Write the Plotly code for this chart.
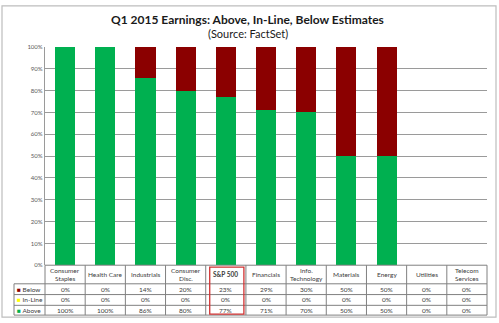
import plotly.graph_objects as go

# Sector earnings outcomes, Q1 2015
categories = ["Consumer<br>Staples", "Health Care", "Industrials", "Consumer<br>Disc.",
              "S&P 500", "Financials", "Info.<br>Technology", "Materials", "Energy",
              "Utilities", "Telecom<br>Services"]
below = [0, 0, 14, 20, 23, 29, 30, 50, 50, 0, 0]
inline = [0, 0, 0, 0, 0, 0, 0, 0, 0, 0, 0]
above = [100, 100, 86, 80, 77, 71, 70, 50, 50, 0, 0]
y_ticks = [0, 10, 20, 30, 40, 50, 60, 70, 80, 90, 100]

GREEN = "#00B050"
RED = "#8B0000"
YELLOW = "#FFFF00"
GRID = "#9A9A9A"
FONT = "Lato"

W, H = 499, 323
def px(x):
    return x / W
def py(y):
    return 1 - y / H

x_left, x_right = 45, 487
y_top, y_base = 44, 267
xs = list(range(len(categories)))

fig = go.Figure()
fig.add_bar(x=xs, y=above, marker_color=GREEN, marker_line_width=0, name="Above")
fig.add_bar(x=xs, y=inline, marker_color=YELLOW, marker_line_width=0, name="In-Line")
fig.add_bar(x=xs, y=below, marker_color=RED, marker_line_width=0, name="Below")

fig.update_layout(
    width=W, height=H, margin=dict(l=0, r=0, t=0, b=0),
    paper_bgcolor="white", plot_bgcolor="white",
    barmode="stack", bargap=0.5, showlegend=False,
    font=dict(family=FONT, color="#404040"),
    xaxis=dict(domain=[px(x_left), px(x_right)], range=[-0.5, len(categories) - 0.5],
               showticklabels=False, showgrid=False, zeroline=False, fixedrange=True),
    yaxis=dict(domain=[py(y_base), py(y_top)], range=[0, 100],
               tickvals=y_ticks, ticktext=[f"{v}%" for v in y_ticks],
               tickfont=dict(size=6, color="#595959"), ticks="", ticklen=0,
               showgrid=True, gridcolor=GRID, gridwidth=1.3,
               showline=True, linecolor=GRID, linewidth=1.3, zeroline=False),
)

def note(x, y, text, font, xref="paper", xanchor="center"):
    fig.add_annotation(x=x, y=y, xref=xref, yref="paper", text=text, font=font,
                       showarrow=False, xanchor=xanchor, yanchor="middle", align="center")

# Title
note(px(247), py(16), "<b>Q1 2015 Earnings: Above, In-Line, Below Estimates</b>",
     dict(size=12, color="#1a1a1a", family=FONT))
note(px(248), py(30), "(Source: FactSet)", dict(size=11, color="#1a1a1a", family=FONT))

shapes = []
line_c = "#808080"
def hline(x0, x1, y, w=1):
    shapes.append(dict(type="line", xref="paper", yref="paper", x0=px(x0), x1=px(x1),
                       y0=py(y), y1=py(y), line=dict(color=line_c, width=w)))
def vline(x, y0, y1, w=1):
    shapes.append(dict(type="line", xref="paper", yref="paper", x0=px(x), x1=px(x),
                       y0=py(y0), y1=py(y1), line=dict(color=line_c, width=w)))

# Data table grid
row_edges = [267, 286, 297, 308, 318]
label_left = 14
col_w = (x_right - x_left) / len(categories)
hline(x_left, x_right, row_edges[0])
for ry in row_edges[1:]:
    hline(label_left, x_right, ry)
vline(label_left, row_edges[1], row_edges[-1])
for i in range(len(categories) + 1):
    vline(x_left + i * col_w, row_edges[0], row_edges[-1])

# Highlight box around the index column
sp = categories.index("S&P 500")
shapes.append(dict(type="rect", xref="paper", yref="paper",
                   x0=px(x_left + sp * col_w + 4), x1=px(x_left + (sp + 1) * col_w - 2),
                   y0=py(269), y1=py(317), line=dict(color="#D03030", width=1.3)))

# Outer frame
shapes.append(dict(type="rect", xref="paper", yref="paper", x0=px(2), x1=px(496),
                   y0=py(320), y1=py(2), line=dict(color="#BDBDBD", width=1.2)))
fig.update_layout(shapes=shapes)

TXT = dict(size=6.5, color="#404040", family=FONT)

# Column headers: each line placed on its own so the spacing stays tight
header_mid = (row_edges[0] + row_edges[1]) / 2
line_gap = 7.5
for i, cat in enumerate(categories):
    parts = cat.split("<br>")
    n = len(parts)
    for j, part in enumerate(parts):
        yc = header_mid + (j - (n - 1) / 2) * line_gap
        label = f"<b>{part}</b>" if cat == "S&P 500" else part
        note(i, py(yc), label, TXT, xref="x")

# Series rows with legend keys
row_centers = [(row_edges[k] + row_edges[k + 1]) / 2 for k in range(len(row_edges) - 1)]
series_rows = [("Below", RED, below), ("In-Line", YELLOW, inline), ("Above", GREEN, above)]
for k, (name, color, vals) in enumerate(series_rows):
    yc = py(row_centers[k + 1])
    note(px(label_left + 1), yc, f"<span style='color:{color}'>■</span> {name}", TXT,
         xanchor="left")
    for i, v in enumerate(vals):
        note(i, yc, f"{v}%", TXT, xref="x")

fig.write_html("out.html")
